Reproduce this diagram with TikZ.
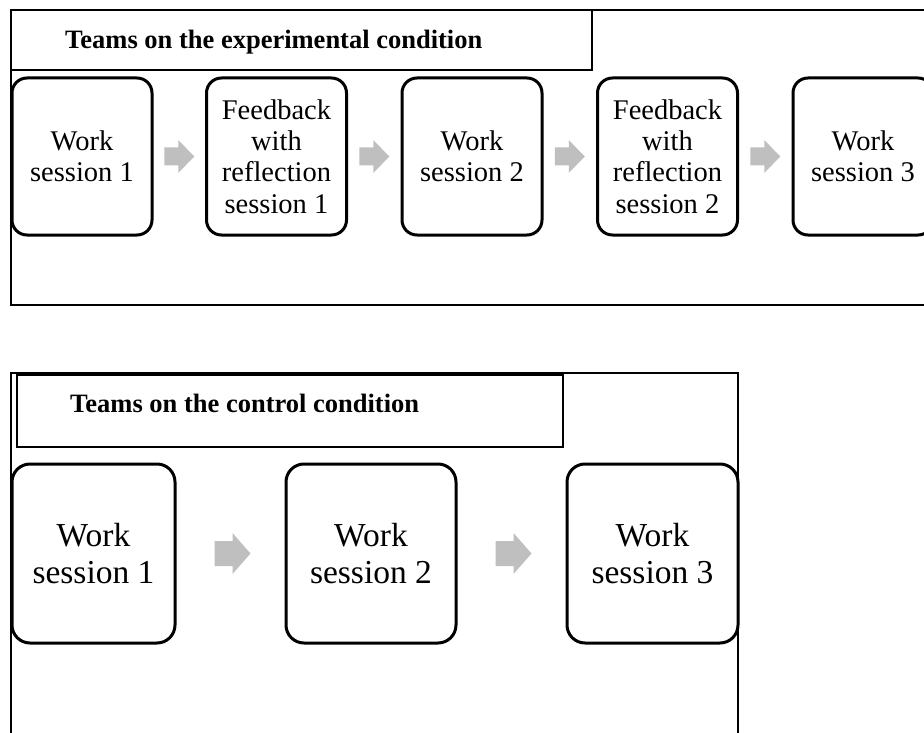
\documentclass[tikz,border=0pt]{standalone}
\usepackage{fontspec}
\setmainfont{Liberation Serif}
\usetikzlibrary{calc}
\begin{document}
\begin{tikzpicture}[x=1pt,y=-1pt,
  stagebox/.style={draw, line width=3pt, align=center, inner sep=0pt, fill=white},
  smallbox/.style={stagebox, rounded corners=15pt, minimum width=140pt, minimum height=157pt,
                   font=\fontsize{28.5}{31.3}\selectfont},
  bigbox/.style={stagebox, rounded corners=18pt, minimum height=179pt,
                 font=\fontsize{33.5}{37}\selectfont},
  titletext/.style={anchor=base west, inner sep=0pt, font=\bfseries\fontsize{26.5}{30}\selectfont},
  framerule/.style={line width=2pt},
  arrowgray/.style={fill=black!25}
]
\useasboundingbox (0,0) rectangle (924,733);
\clip (0,0) rectangle (924,733);
\fill[white] (0,0) rectangle (924,733);

% ---------- experimental condition ----------
\draw[framerule] (940,10) -- (11,10) -- (11,305) -- (940,305);
\draw[line width=2.5pt] (940,10) -- (11,10);
\draw[line width=2.3pt] (11,10) rectangle (592,70);
\node[titletext] (t1) at (65,49) {Teams on the experimental condition};

\node[smallbox] (e1) at (82,156.5) {Work\\session 1};
\node[smallbox] (e2) at (276.5,156.5) {Feedback\\with\\reflection\\session 1};
\node[smallbox] (e3) at (472,156.5) {Work\\session 2};
\node[smallbox] (e4) at (667.5,156.5) {Feedback\\with\\reflection\\session 2};
\node[smallbox] (e5) at (863,156.5) {Work\\session 3};

\foreach \a/\b in {e1/e2,e2/e3,e3/e4,e4/e5}{
  \fill[arrowgray] ($(\a.east)!0.5!(\b.west)$) ++(-15,-9) -- ++(14,0) -- ++(0,-7.5)
    -- ++(16,16.5) -- ++(-16,16.5) -- ++(0,-7.5) -- ++(-14,0) -- cycle;
}

% ---------- control condition ----------
\draw[line width=1.6pt] (11,745) -- (11,373) -- (738,373) -- (738,745);
\draw[line width=2pt] (17,375) rectangle (563,447);
\node[titletext] (t2) at (70,412) {Teams on the control condition};

\node[bigbox, minimum width=163pt] (c1) at (93.5,553.5) {Work\\session 1};
\node[bigbox, minimum width=170pt] (c2) at (371,553.5) {Work\\session 2};
\node[bigbox, minimum width=171pt] (c3) at (652.5,553.5) {Work\\session 3};

\foreach \a/\b in {c1/c2,c2/c3}{
  \fill[arrowgray] ($(\a.east)!0.5!(\b.west)$) ++(-16,-12.5) -- ++(18,0) -- ++(0,-8)
    -- ++(18,20.5) -- ++(-18,20.5) -- ++(0,-8) -- ++(-18,0) -- cycle;
}
\end{tikzpicture}
\end{document}
